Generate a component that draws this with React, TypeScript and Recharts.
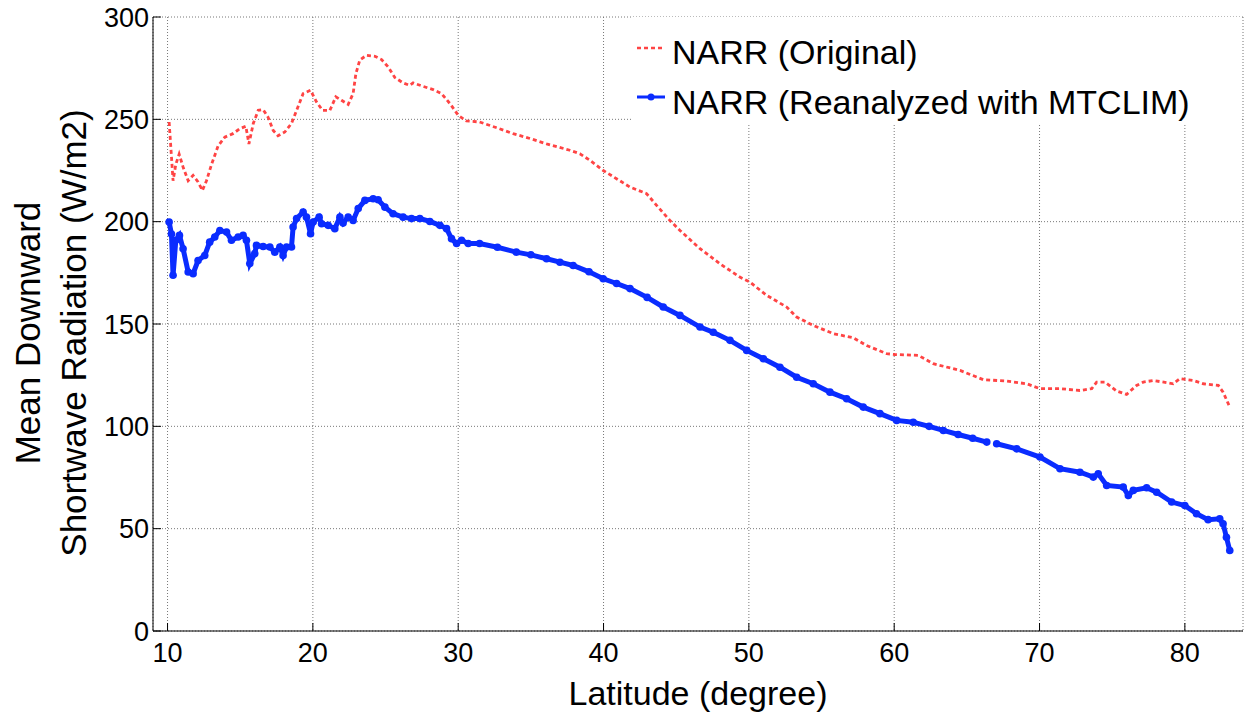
import {
  CartesianGrid,
  Label,
  Legend,
  Line,
  LineChart,
  XAxis,
  YAxis,
} from "recharts";

// NARR (Original) – latitude / mean downward shortwave radiation
const latOriginal = [
  10.11, 10.38, 10.57, 10.8, 11.07, 11.42, 11.76, 12.1, 12.4, 12.68, 13.03, 13.48,
  13.94, 14.5, 14.97, 15.39, 15.6, 15.9, 16.24, 16.58, 16.92, 17.27, 17.6, 18.07,
  18.53, 18.88, 19.33, 19.84, 20.25, 20.67, 21.17, 21.58, 21.97, 22.43, 22.77, 22.96,
  23.23, 23.69, 24.27, 24.73, 25.18, 25.64, 26.21, 26.67, 26.9, 27.59, 28.28, 28.85,
  29.43, 30.0, 30.57, 31.47, 32.6, 33.78, 35.0, 36.08, 37.68, 38.37, 39.06, 39.98,
  41.82, 42.96, 43.65, 44.57, 45.26, 46.64, 48.0, 49.38, 50.07, 51.22, 52.6, 53.29,
  54.43, 55.8, 57.18, 58.1, 59.48, 60.05, 61.65, 62.69, 64.53, 66.13, 67.74, 69.12,
  70.03, 71.41, 72.78, 73.59, 73.93, 74.51, 75.31, 75.99, 76.68, 77.14, 77.83, 79.2,
  79.66, 80.58, 81.27, 82.3, 82.63, 83.09,
];
const radOriginal = [
  248.7, 220, 228, 233, 226.7, 220, 222.6, 219.4, 215.3, 220, 228, 237,
  241.3, 243, 245.4, 246.6, 238, 248, 254.4, 254.7, 251, 244.6, 242, 243.8,
  248, 254.4, 262.6, 264.2, 258.5, 254.4, 254.4, 261, 259.3, 257.3, 262.6, 272.3,
  279, 281.3, 280.8, 279.2, 275.6, 270.4, 267.8, 266.6, 267.8, 266.1, 264.5, 262.6,
  257.7, 252, 249.2, 248.7, 246, 243, 240.5, 238, 234.9, 233.2, 230, 225,
  216.9, 213.7, 208, 200.6, 195.7, 186.8, 179.5, 172.9, 170.5, 164, 158.3, 153.4,
  149.3, 145.3, 143.3, 139.5, 135.5, 135.1, 134.7, 130.6, 127.3, 122.8, 122.1, 120.8,
  118.4, 118.4, 117.5, 118.4, 121.6, 121.6, 117.2, 115.6, 120, 121.6, 122.4, 120.8,
  123.3, 122.4, 120.8, 120, 116.7, 109.4,
];

// NARR reanalyzed with MTCLIM (null = missing value)
const latMtclim = [
  10.11, 10.27, 10.38, 10.57, 10.82, 11.07, 11.42, 11.76, 12.1, 12.56, 12.9, 13.25,
  13.6, 14.06, 14.4, 14.86, 15.2, 15.43, 15.66, 16.0, 16.12, 16.58, 17.04, 17.38,
  17.73, 17.95, 18.19, 18.53, 18.64, 18.88, 19.33, 19.56, 19.84, 20.02, 20.43, 20.6,
  21.05, 21.51, 21.86, 22.08, 22.43, 22.77, 23.12, 23.58, 24.15, 24.49, 24.96, 25.52,
  26.21, 26.79, 27.36, 28.05, 28.74, 29.2, 29.54, 29.89, 30.23, 30.69, 31.47, 32.7,
  34.0, 35.0, 36.08, 37.0, 37.91, 39.0, 39.98, 40.9, 41.82, 43.0, 44.11, 45.26,
  46.64, 47.55, 48.7, 49.85, 51.0, 52.14, 53.29, 54.43, 55.58, 56.73, 57.87, 59.02,
  60.17, 61.31, 62.4, 63.38, 64.4, 65.4, 66.37, 66.7, 67.05, 68.43, 70.03, 71.41,
  72.78, 73.7, 74.04, 74.62, 75.76, 76.11, 76.45, 77.37, 78.06, 79.09, 80.0, 80.8,
  81.6, 82.4, 82.63, 82.86, 83.09,
];
const radMtclim: (number | null)[] = [
  199.8, 194, 173.8, 190.9, 193.3, 186.8, 175.4, 174.6, 181, 183.5, 190, 192.5,
  195.7, 194.9, 190.9, 192.5, 193.3, 190.9, 179.5, 184.4, 188.4, 187.9, 187.6, 185.1,
  187.6, 183.5, 187.6, 187.6, 197.4, 201.5, 204.7, 202.2, 194.1, 199.8, 202.2, 199,
  198.2, 196.6, 202.2, 199.3, 202.2, 200.6, 206.4, 210.4, 211.2, 210.7, 207.1, 203.9,
  202.2, 201.5, 201.5, 200.1, 198.2, 196.6, 191.7, 189.3, 190.9, 189.3, 189.3, 187.5,
  185.1, 183.8, 181.9, 180.2, 178.6, 175.5, 172.1, 169.8, 167.3, 163, 158.3, 154.2,
  148.5, 146, 142, 137.1, 133, 128.9, 124, 120.8, 116.7, 113.5, 109.4, 106.2,
  102.9, 102, 100, 98, 96, 94.2, 92.3, null, 91.5, 89, 85, 79.3,
  77.6, 75.2, 76.8, 71.1, 70.3, 66.2, 68.7, 70, 67.8, 63, 61.3, 57.3,
  54.4, 54.8, 52.4, 45.8, 39.3,
];

const xTicks = [10, 20, 30, 40, 50, 60, 70, 80];
const yTicks = [0, 50, 100, 150, 200, 250, 300];

const RED = "#ff4444";
const BLUE = "#0a2cff";
const FONT = '"Liberation Sans", Arial, Helvetica, sans-serif';

const originalData = latOriginal.map((lat, i) => ({ lat, rad: radOriginal[i] }));
const mtclimData = latMtclim.map((lat, i) => ({ lat, rad: radMtclim[i] }));

function YTitle() {
  return (
    <g fontFamily={FONT} fontSize={35} fill="#000">
      <text x={40} y={333} transform="rotate(-90 40 333)" textAnchor="middle">
        Mean Downward
      </text>
      <text x={86} y={333} transform="rotate(-90 86 333)" textAnchor="middle">
        Shortwave Radiation (W/m2)
      </text>
    </g>
  );
}

function LegendBox() {
  return (
    <svg width={611} height={107} style={{ display: "block", background: "#fff" }}>
      <line x1={6} x2={34} y1={31} y2={31} stroke={RED} strokeWidth={2.5} strokeDasharray="4 3" />
      <text x={41} y={47} fontFamily={FONT} fontSize={34} fill="#000">
        NARR (Original)
      </text>
      <line x1={6} x2={34} y1={80} y2={80} stroke={BLUE} strokeWidth={3} />
      <circle cx={20} cy={80} r={3.5} fill={BLUE} />
      <text x={41} y={97} fontFamily={FONT} fontSize={34} fill="#000">
        NARR (Reanalyzed with MTCLIM)
      </text>
    </svg>
  );
}

export default function App() {
  const tickStyle = { fontSize: 27, fill: "#000", fontFamily: FONT };
  return (
    <div style={{ fontFamily: FONT, background: "#fff" }}>
      <style>{"body{margin:0}"}</style>
      <LineChart width={1244} height={717} margin={{ top: 17, right: 1, left: 0, bottom: 0 }}>
        <CartesianGrid stroke="#777" strokeDasharray="1 2" />
        <XAxis
          type="number"
          dataKey="lat"
          domain={[9, 84]}
          ticks={xTicks}
          allowDataOverflow
          height={86}
          tickSize={-8}
          tickMargin={20}
          tick={tickStyle}
          stroke="#000"
        >
          <Label
            value="Latitude (degree)"
            position="insideBottom"
            offset={12}
            style={{ fontSize: 34, fill: "#000", fontFamily: FONT }}
          />
        </XAxis>
        <XAxis
          xAxisId="top"
          orientation="top"
          type="number"
          dataKey="lat"
          domain={[9, 84]}
          ticks={xTicks}
          height={0}
          tickSize={-8}
          tick={false}
          stroke="#000"
        />
        <YAxis
          type="number"
          domain={[0, 300]}
          ticks={yTicks}
          width={153}
          tickSize={-8}
          tickMargin={12}
          tick={tickStyle}
          stroke="#000"
        >
          <Label content={<YTitle />} />
        </YAxis>
        <YAxis
          yAxisId="right"
          orientation="right"
          type="number"
          domain={[0, 300]}
          ticks={yTicks}
          width={0}
          tickSize={-8}
          tick={false}
          stroke="#000"
        />
        <Legend
          layout="horizontal"
          align="center"
          verticalAlign="middle"
          content={() => <LegendBox />}
          wrapperStyle={{ left: 631, top: 17, width: 611, height: 107 }}
        />
        <Line
          data={originalData}
          dataKey="rad"
          type="linear"
          stroke={RED}
          strokeWidth={2.8}
          strokeDasharray="4 3"
          dot={false}
          isAnimationActive={false}
        />
        <Line
          data={mtclimData}
          dataKey="rad"
          type="linear"
          stroke={BLUE}
          strokeWidth={5}
          dot={{ r: 3.8, fill: BLUE, stroke: BLUE, strokeWidth: 0 }}
          isAnimationActive={false}
        />
      </LineChart>
    </div>
  );
}
